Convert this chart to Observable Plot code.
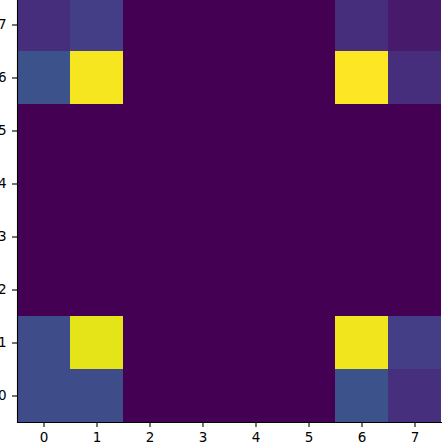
<!DOCTYPE html>
<html>
<head>
<meta charset="utf-8">
<script src="https://cdn.jsdelivr.net/npm/d3@7"></script>
<script src="https://cdn.jsdelivr.net/npm/@observablehq/plot@0.6"></script>
<style>
  html, body { margin: 0; padding: 0; background: #fff; overflow: hidden; }
  #chart svg { display: block; margin-top: -2px; }
</style>
</head>
<body>
<div id="chart"></div>
<script>
const xLabels = [0, 1, 2, 3, 4, 5, 6, 7];
const yLabels = [0, 1, 2, 3, 4, 5, 6, 7];
const row0 = [0.23, 0.23, 0, 0, 0, 0, 0.25, 0.14];
const row1 = [0.23, 0.96, 0, 0, 0, 0, 0.98, 0.18];
const row2 = [0, 0, 0, 0, 0, 0, 0, 0];
const row3 = [0, 0, 0, 0, 0, 0, 0, 0];
const row4 = [0, 0, 0, 0, 0, 0, 0, 0];
const row5 = [0, 0, 0, 0, 0, 0, 0, 0];
const row6 = [0.25, 0.985, 0, 0, 0, 0, 1.0, 0.13];
const row7 = [0.13, 0.18, 0, 0, 0, 0, 0.13, 0.07];
const rows = [row0, row1, row2, row3, row4, row5, row6, row7];

const data = [];
rows.forEach((r, yi) => r.forEach((v, xi) => data.push({x: xLabels[xi], y: yLabels[yi], v})));

const font = "DejaVu Sans, sans-serif";
const chart = Plot.plot({
  width: 442,
  height: 447,
  marginLeft: 17,
  marginRight: 1,
  marginTop: 0,
  marginBottom: 23,
  style: {fontFamily: font, fontSize: "13.5px", color: "#000", background: "#fff"},
  x: {type: "band", domain: xLabels, padding: 0},
  y: {type: "band", domain: yLabels, reverse: true, padding: 0},
  color: {scheme: "viridis", domain: [0, 1]},
  marks: [
    Plot.cell(data, {x: "x", y: "y", fill: "v", shapeRendering: "crispEdges"}),
    Plot.axisX({tickSize: 5, tickPadding: 5, label: null, stroke: "#000", strokeWidth: 1.1}),
    Plot.axisY({tickSize: 5, tickPadding: 6, label: null, stroke: "#000", strokeWidth: 1.1}),
    Plot.frame({anchor: "left", stroke: "#000", strokeWidth: 1.1, strokeOpacity: 1}),
    Plot.frame({anchor: "bottom", stroke: "#000", strokeWidth: 1.1, strokeOpacity: 1})
  ]
});
document.getElementById("chart").appendChild(chart);
</script>
</body>
</html>
